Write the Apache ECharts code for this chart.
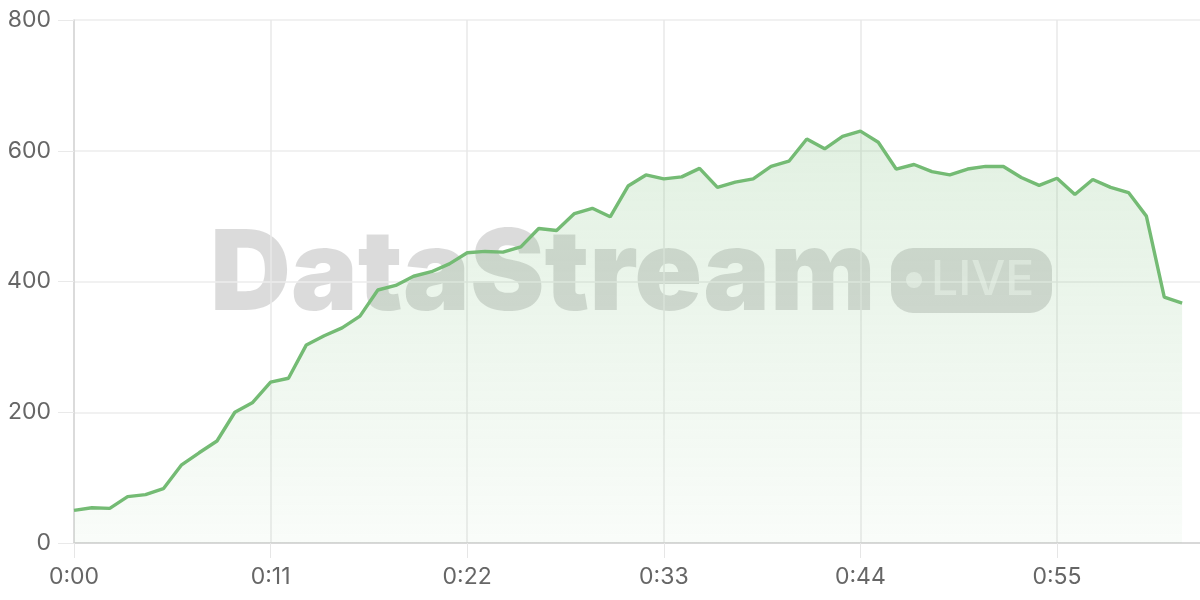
<!DOCTYPE html>
<html>
<head>
<meta charset="utf-8">
<script src="https://cdn.jsdelivr.net/npm/echarts@6/dist/echarts.min.js"></script>
<style>
html,body{margin:0;padding:0;background:#fff;}
#chart{width:1200px;height:600px;}
</style>
</head>
<body>
<div id="chart"></div>
<script>
const categories = [
  "0:00","0:01","0:02","0:03","0:04","0:05","0:06","0:07","0:08","0:09",
  "0:10","0:11","0:12","0:13","0:14","0:15","0:16","0:17","0:18","0:19",
  "0:20","0:21","0:22","0:23","0:24","0:25","0:26","0:27","0:28","0:29",
  "0:30","0:31","0:32","0:33","0:34","0:35","0:36","0:37","0:38","0:39",
  "0:40","0:41","0:42","0:43","0:44","0:45","0:46","0:47","0:48","0:49",
  "0:50","0:51","0:52","0:53","0:54","0:55","0:56","0:57","0:58","0:59",
  "1:00","1:01","1:02","1:03"
];
const values = [
  50, 54, 53, 71, 74, 83, 119, 138, 156, 200,
  215, 246, 252, 303, 317, 329, 347, 387, 394, 408,
  415, 427, 444, 446, 445, 453, 481, 478, 504, 512,
  499, 546, 563, 557, 560, 573, 544, 552, 557, 576,
  584, 618, 603, 622, 630, 613, 572, 579, 568, 563,
  572, 576, 576, 559, 547, 558, 533, 556, 544, 536,
  500, 376, 367
];
const yTicks = { min: 0, max: 800, interval: 200 };

const chart = echarts.init(document.getElementById('chart'));
const labelFont = 'Inter, "Noto Sans", sans-serif';
chart.setOption({
  animation: false,
  grid: { left: 74, right: 0, top: 20, bottom: 57 },
  graphic: [
    { type: 'text', z: 0, left: 210, top: 220,
      style: { text: 'DataStream', font: '900 112px Inter, sans-serif', fill: 'rgba(0,0,0,0.14)' } },
    { type: 'rect', z: 0, shape: { x: 891, y: 248, width: 161, height: 65, r: 22 },
      style: { fill: 'rgba(0,0,0,0.14)' } },
    { type: 'circle', z: 1, shape: { cx: 914, cy: 280, r: 8 },
      style: { fill: 'rgba(255,255,255,0.55)' } },
    { type: 'text', z: 1, left: 931, top: 257,
      style: { text: 'LIVE', font: '500 48px Inter, sans-serif', fill: 'rgba(255,255,255,0.5)' } }
  ],
  xAxis: {
    type: 'category',
    data: categories,
    boundaryGap: false,
    axisLine: { lineStyle: { color: '#cfcfcf', width: 1.5 } },
    axisTick: { show: true, interval: 10, length: 15, lineStyle: { color: '#e6e6e6' } },
    axisLabel: { interval: 10, margin: 23, color: '#666', fontSize: 23, fontFamily: labelFont },
    splitLine: { show: true, interval: 10, lineStyle: { color: '#e9e9e9', width: 1.5 } }
  },
  yAxis: {
    type: 'value',
    min: yTicks.min, max: yTicks.max, interval: yTicks.interval,
    axisLine: { show: true, lineStyle: { color: '#d4d4d4', width: 1.5 } },
    axisTick: { show: true, length: 16, lineStyle: { color: '#e9e9e9' } },
    axisLabel: { margin: 23, color: '#666', fontSize: 23, fontFamily: labelFont },
    splitLine: { lineStyle: { color: '#ececec', width: 1.5 } }
  },
  series: [{
    type: 'line',
    data: values,
    symbol: 'none',
    z: 3,
    lineStyle: { color: '#74bb74', width: 3.4 },
    areaStyle: {
      color: new echarts.graphic.LinearGradient(0, 0, 0, 1, [
        { offset: 0, color: 'rgba(116,187,116,0.30)' },
        { offset: 1, color: 'rgba(116,187,116,0.06)' }
      ])
    }
  }]
});
</script>
</body>
</html>
